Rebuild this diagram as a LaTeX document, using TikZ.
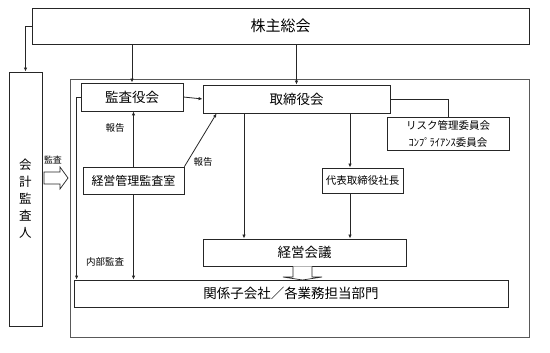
\documentclass[tikz,border=0pt]{standalone}
\usepackage{fontspec}
\newfontfamily\jp{Noto Sans CJK JP}
\usetikzlibrary{arrows.meta}

\begin{document}
\begin{tikzpicture}[
    x=1pt, y=-1pt,
    box/.style={draw=black!85, line width=0.8pt, rectangle, inner sep=0pt, font=\jp\fontsize{13.5}{15}\selectfont},
    smallbox/.style={box, font=\jp\fontsize{10.5}{17}\selectfont},
    frame/.style={draw=black!65, line width=0.9pt, rectangle, inner sep=0pt},
    label text/.style={font=\jp\fontsize{9.5}{11}\selectfont, inner sep=0pt},
    line/.style={line width=0.8pt, draw=black!85},
    arr/.style={line, -{Latex[length=4pt, width=3.4pt]}},
    hollow/.style={draw=black!85, line width=0.7pt, fill=white}
]
\useasboundingbox (0,0) rectangle (550,353);

% ====================
% Riquadri principali
% ====================
\node[box, minimum width=497pt, minimum height=36pt, font=\jp\fontsize{15}{17}\selectfont] (SOUKAI) at (280.5, 26) {株主総会};
\node[box, minimum width=33pt, minimum height=254pt, align=center, font=\jp\fontsize{12.5}{17}\selectfont] (KAIKEI) at (25.5, 199) {会\\計\\監\\査\\人};
\node[frame, minimum width=459pt, minimum height=258pt] (GRP) at (299.5, 208) {};

\node[box, minimum width=102pt, minimum height=28pt] (KANSA) at (132, 97) {監査役会};
\node[box, minimum width=187pt, minimum height=28pt] (TORI) at (296.5, 99) {取締役会};
\node[smallbox, minimum width=122pt, minimum height=33pt, align=center] (RISK) at (448, 133.5) {リスク管理委員会\\ｺﾝﾌﾟﾗｲｱﾝｽ委員会};
\node[box, minimum width=101pt, minimum height=27pt, font=\jp\fontsize{12}{14}\selectfont] (SHITSU) at (133.5, 180.5) {経営管理監査室};
\node[smallbox, minimum width=81pt, minimum height=25pt] (SHACHO) at (362.5, 180.5) {代表取締役社長};
\node[box, minimum width=203pt, minimum height=27pt] (KAIGI) at (304.5, 252.5) {経営会議};
\node[box, minimum width=434pt, minimum height=27pt] (BUMON) at (291, 293.5) {関係子会社／各業務担当部門};

% ====================
% Etichette
% ====================
\node[label text, font=\jp\fontsize{9}{10}\selectfont] (L_KANSA) at (53, 160) {監査};
\node[label text] (L_HOUKOKU1) at (115, 128) {報告};
\node[label text] (L_HOUKOKU2) at (203, 162) {報告};
\node[label text] (L_NAIBU) at (105, 262) {内部監査};

% ====================
% Collegamenti
% ====================
\draw[arr] (SOUKAI.west) -| (KAIKEI.north);
\draw[arr] (KANSA.north |- SOUKAI.south) -- (KANSA.north);
\draw[arr] (TORI.north |- SOUKAI.south) -- (TORI.north);
\draw[arr] (KANSA.east) -- (TORI.west);
\draw[line] (TORI.east) -| (RISK.north);

\draw[arr] (SHITSU.north) -- (SHITSU.north |- KANSA.south);
\draw[arr] (SHITSU.north east) -- ([xshift=14pt]TORI.south west);
\draw[arr] (SHITSU.south) -- (SHITSU.south |- BUMON.north);
\draw[arr] (KANSA.west) -| ([xshift=3pt]BUMON.north west);

\draw[arr] ([xshift=-52.5pt]TORI.south) -- ([xshift=-52.5pt]TORI.south |- KAIGI.north);
\draw[arr] ([xshift=-12.5pt]SHACHO.north |- TORI.south) -- ([xshift=-12.5pt]SHACHO.north);
\draw[arr] ([xshift=-12.5pt]SHACHO.south) -- ([xshift=-12.5pt]SHACHO.south |- KAIGI.north);

% ====================
% Frecce vuote
% ====================
\draw[hollow] (44,172) -- (60,172) -- (60,167) -- (68,178) -- (60,189) -- (60,184) -- (44,184) -- cycle;
\draw[hollow] (293,266.4) -- (293,277) -- (283,277) -- (302.5,280) -- (322,277) -- (312,277) -- (312,266.4);

\end{tikzpicture}
\end{document}
